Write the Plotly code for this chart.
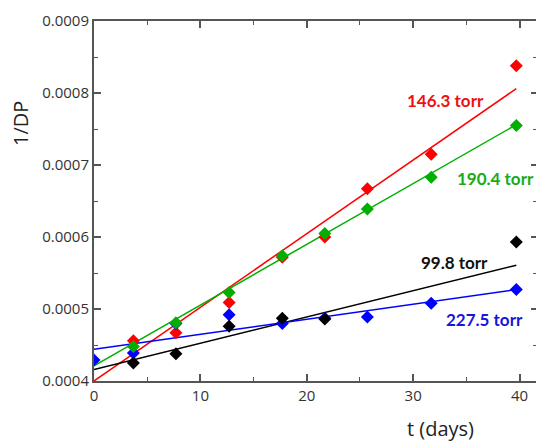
import plotly.graph_objects as go

# ---- data ----
series_names = ["146.3 torr", "190.4 torr", "99.8 torr", "227.5 torr"]
series_colors = ["#ff0000", "#00b000", "#000000", "#0000ff"]
label_colors = ["#ee1111", "#1aaa1a", "#111111", "#1515dd"]

red_x = [3.7, 7.7, 12.7, 17.7, 21.7, 25.7, 31.7, 39.7]
red_y = [0.000456, 0.000467, 0.000509, 0.000572, 0.000600, 0.000667, 0.000715, 0.000838]

green_x = [3.7, 7.7, 12.7, 17.7, 21.7, 25.7, 31.7, 39.7]
green_y = [0.000448, 0.000481, 0.000523, 0.000574, 0.000605, 0.000639, 0.000683, 0.000755]

black_x = [3.7, 7.7, 12.7, 17.7, 21.7, 39.7]
black_y = [0.000425, 0.000438, 0.000476, 0.000487, 0.000486, 0.000593]

blue_x = [0, 3.7, 7.7, 12.7, 17.7, 21.7, 25.7, 31.7, 39.7]
blue_y = [0.000429, 0.000439, 0.000480, 0.000492, 0.000480, 0.000487, 0.000489, 0.000508, 0.000527]

# linear fits (intercept, slope per day)
fit_intercept = [0.000400, 0.000421, 0.000416, 0.000444]
fit_slope = [1.023e-5, 8.44e-6, 3.65e-6, 2.09e-6]
fit_x_range = [0, 39.7]

# label positions (data coords)
label_x = [33.0, 37.7, 33.85, 36.75]
label_y = [0.000790, 0.000681, 0.000565, 0.000486]

y_ticks = [0.0004, 0.0005, 0.0006, 0.0007, 0.0008, 0.0009]
x_ticks = [0, 10, 20, 30, 40]

xs = [red_x, green_x, black_x, blue_x]
ys = [red_y, green_y, black_y, blue_y]

fig = go.Figure()

for i in range(4):
    fx = fit_x_range
    fy = [fit_intercept[i] + fit_slope[i] * v for v in fx]
    fig.add_trace(go.Scatter(x=fx, y=fy, mode="lines",
                             line=dict(color=series_colors[i], width=1.5),
                             showlegend=False, hoverinfo="skip"))

for i in [0, 3, 1, 2]:
    fig.add_trace(go.Scatter(x=xs[i], y=ys[i], mode="markers",
                             marker=dict(symbol="diamond", size=10, color=series_colors[i],
                                         line=dict(width=0)),
                             name=series_names[i], showlegend=False))

# invisible trace for right-side tick axis
fig.add_trace(go.Scatter(x=[0], y=[0.0005], yaxis="y2", mode="markers",
                         marker=dict(opacity=0), showlegend=False, hoverinfo="skip"))

for i in range(4):
    fig.add_annotation(x=label_x[i], y=label_y[i], text="<b>%s</b>" % series_names[i],
                       showarrow=False, xanchor="center", yanchor="middle",
                       font=dict(family="Lato", size=17, color=label_colors[i]))

axis_col = "#555555"
tick_font = dict(family="Open Sans", size=15, color="#333333")

fig.update_layout(
    width=536, height=443,
    margin=dict(l=94, r=0, t=21, b=62),
    paper_bgcolor="white", plot_bgcolor="white",
    xaxis=dict(range=[0, 41.55], tickvals=x_ticks, ticktext=[str(v) for v in x_ticks],
               showgrid=False, zeroline=False, showline=True, linecolor=axis_col, linewidth=2,
               mirror="ticks", ticks="inside", ticklen=7, tickwidth=1.5, tickcolor=axis_col,
               tickfont=tick_font,
               minor=dict(dtick=5, tick0=0, ticks="inside", ticklen=4, tickwidth=1,
                          tickcolor=axis_col, showgrid=False)),
    yaxis=dict(range=[0.0004, 0.0009], tickvals=y_ticks, ticktext=["%.4f" % v for v in y_ticks],
               showgrid=False, zeroline=False, showline=True, linecolor=axis_col, linewidth=2,
               ticks="inside", ticklen=7, tickwidth=1.5, tickcolor=axis_col,
               tickfont=tick_font,
               minor=dict(dtick=0.00005, tick0=0.0004, ticks="inside", ticklen=4, tickwidth=1,
                          tickcolor=axis_col, showgrid=False)),
    yaxis2=dict(overlaying="y", side="right", matches="y", range=[0.0004, 0.0009],
                tickvals=y_ticks, showticklabels=False, showgrid=False, zeroline=False,
                showline=False, ticks="inside", ticklen=5, tickwidth=1.5, tickcolor=axis_col,
                minor=dict(dtick=0.00005, tick0=0.0004, ticks="inside", ticklen=3, tickwidth=1,
                           tickcolor=axis_col, showgrid=False)),
    showlegend=False,
)

fig.add_annotation(xref="paper", yref="paper", x=0.783, y=-0.133, text="t (days)",
                   showarrow=False, xanchor="center", yanchor="middle",
                   font=dict(family="Open Sans", size=20, color="#222222"))
fig.add_annotation(xref="paper", yref="paper", x=-0.165, y=0.714, text="1/DP", textangle=-90,
                   showarrow=False, xanchor="center", yanchor="middle",
                   font=dict(family="Open Sans", size=20, color="#222222"))

fig.write_html("out.html")
